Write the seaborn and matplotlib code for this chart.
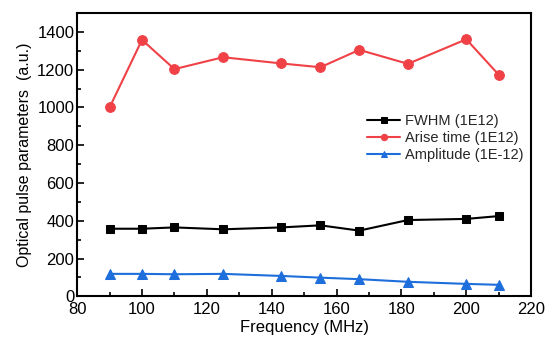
import matplotlib
matplotlib.use("Agg")
import matplotlib.pyplot as plt
from matplotlib.ticker import MultipleLocator
import pandas as pd
import seaborn as sns

frequency = [90, 100, 110, 125, 143, 155, 167, 182, 200, 210]
fwhm = [358, 358, 365, 355, 365, 376, 348, 404, 410, 425]
arise_time = [1000, 1358, 1203, 1266, 1233, 1213, 1305, 1231, 1361, 1173]
amplitude = [119, 119, 117, 119, 108, 99, 91, 77, 66, 61]

series_names = ["FWHM (1E12)", "Arise time (1E12)", "Amplitude (1E-12)"]
series_colors = ["#000000", "#EF4146", "#1E6FDC"]
series_markers = ["s", "o", "^"]
series_sizes = [6, 7, 7]

sns.set_theme(style="white")
plt.rcParams["font.family"] = ["Liberation Sans", "DejaVu Sans"]

fig = plt.figure(figsize=(5.51, 3.43), dpi=100)
ax = fig.add_axes([0.140, 0.136, 0.824, 0.826])

for name, vals, col, mk, ms in zip(series_names, [fwhm, arise_time, amplitude],
                                   series_colors, series_markers, series_sizes):
    df = pd.DataFrame({"Frequency": frequency, "Value": vals})
    sns.lineplot(data=df, x="Frequency", y="Value", ax=ax, color=col,
                 marker=mk, markersize=ms, markeredgecolor=col,
                 linewidth=1.5, label=name)

ax.set_xlim(80, 220)
ax.set_ylim(0, 1500)
ax.xaxis.set_major_locator(MultipleLocator(20))
ax.xaxis.set_minor_locator(MultipleLocator(10))
ax.yaxis.set_major_locator(MultipleLocator(200))
ax.yaxis.set_minor_locator(MultipleLocator(100))
ax.tick_params(axis="both", which="both", direction="in", top=False, right=False,
               labelsize=12, colors="black")
ax.tick_params(which="major", length=5, width=1.2)
ax.tick_params(which="minor", length=3, width=1.2)
ax.tick_params(axis="x", which="both", bottom=True, pad=4)
ax.tick_params(axis="y", which="both", left=True, pad=2)
for s in ax.spines.values():
    s.set_color("black")
    s.set_linewidth(1.5)

ax.set_xlabel("Frequency (MHz)", fontsize=12, color="black", labelpad=2)
ax.set_ylabel("Optical pulse parameters  (a.u.)", fontsize=11.5, color="black", labelpad=4)

ax.legend(loc="upper left", bbox_to_anchor=(0.625, 0.665), frameon=False, fontsize=10.5,
          handlelength=2.3, handletextpad=0.35, labelspacing=0.2, borderaxespad=0,
          markerscale=0.65)

fig.savefig("out.png", dpi=100)
